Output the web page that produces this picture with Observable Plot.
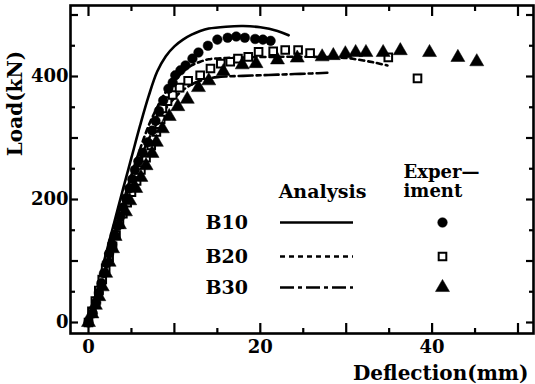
<!DOCTYPE html>
<html>
<head>
<meta charset="utf-8">
<script src="https://cdn.jsdelivr.net/npm/d3@7"></script>
<script src="https://cdn.jsdelivr.net/npm/@observablehq/plot@0.6"></script>
<style>
  html, body { margin: 0; padding: 0; background: #fff; }
</style>
</head>
<body>
<div id="chart"></div>
<script>
// ---------------- data (deflection mm, load kN) ----------------
const seriesNames = ["B10", "B20", "B30"];

// Analysis curves
const b10AnalysisX = [0, 1, 2, 3, 4, 5, 6, 7, 8, 9, 10, 11, 12, 13, 14, 16, 18, 20, 22, 23.3];
const b10AnalysisY = [0, 55, 110, 163, 216, 268, 320, 368, 408, 433, 449, 460, 468, 474, 478, 481, 482, 480, 474, 467];

const b20AnalysisX = [0, 1, 2, 3, 4, 5, 6, 7, 8, 9, 10, 11, 12, 13, 14, 16, 18, 22, 26, 30, 32, 33.5, 34.8];
const b20AnalysisY = [0, 50, 100, 148, 195, 240, 282, 320, 350, 375, 393, 408, 418, 424, 428, 430, 431, 432, 432, 430, 426, 422, 418];

const b30AnalysisX = [0, 1, 2, 3, 4, 5, 6, 7, 8, 9, 10, 11, 12, 13, 14, 15, 16, 18, 20, 22, 24, 26, 27.8];
const b30AnalysisY = [0, 48, 95, 140, 185, 226, 265, 298, 325, 348, 365, 378, 387, 393, 397, 399, 400, 401, 402, 403, 404, 405, 406];

// Experiment points
const b10ExpX = [0, 0.5, 0.9, 1.2, 1.5, 1.8, 2.1, 2.4, 2.75, 3.05, 3.4, 3.7, 4.0, 4.35, 4.75, 5.1, 5.4, 5.8, 6.3, 6.9, 7.4, 7.8, 8.2, 8.7, 9.3, 9.8, 10.1, 10.7, 11.3, 12.1, 12.8, 13.9, 15.0, 16.2, 17.2, 18.2, 19.4, 20.3, 21.2];
const b10ExpY = [0, 15, 32, 48, 64, 80, 96, 112, 127, 142, 157, 172, 187, 202, 218, 233, 248, 262, 276, 293, 312, 328, 344, 361, 380, 390, 402, 410, 418, 429, 439, 450, 460, 463, 465, 463, 461, 460, 458];

const b20ExpX = [0, 0.4, 0.8, 1.2, 1.6, 2.0, 2.4, 2.8, 3.2, 3.6, 4.0, 4.5, 5.0, 5.6, 6.1, 6.7, 7.3, 7.9, 8.4, 8.6, 9.2, 9.8, 10.6, 11.6, 13.0, 14.2, 15.4, 16.5, 17.4, 18.6, 19.8, 21.5, 22.9, 24.4, 25.8, 34.9, 38.3];
const b20ExpY = [0, 18, 35, 52, 70, 88, 106, 124, 142, 160, 177, 195, 212, 230, 248, 268, 288, 310, 330, 348, 360, 370, 382, 393, 402, 413, 421, 424, 429, 432, 440, 441, 443, 443, 438, 431, 397];

const b30ExpX = [0, 0.4, 0.8, 1.2, 1.6, 2.0, 2.4, 2.8, 3.1, 3.6, 4.3, 4.8, 5.5, 6.1, 6.7, 7.4, 7.9, 8.6, 9.4, 10.4, 11.5, 12.8, 14.0, 15.7, 17.9, 19.5, 22.0, 24.3, 27.2, 28.5, 29.9, 31.1, 32.3, 34.3, 36.3, 39.7, 43.0, 45.2];
const b30ExpY = [0, 14, 28, 42, 58, 80, 98, 120, 140, 159, 180, 198, 218, 236, 255, 275, 293, 315, 335, 351, 363, 382, 393, 408, 419, 421, 427, 430, 432, 434, 437, 439, 439, 439, 442, 439, 431, 424];

// Axis ticks and labels
const xTickLabels = [0, 20, 40];
const xMajorTicks = [0, 10, 20, 30, 40, 50];
const xMinorTicks = [5, 15, 25, 35, 45];
const yTickLabels = [0, 200, 400];
const yMajorTicks = [0, 100, 200, 300, 400, 500];
const yMinorTicks = [50, 150, 250, 350, 450];
const xLabel = "Deflection(mm)";
const yLabel = "Load(kN)";
const legendHeadAnalysis = "Analysis";
const legendHeadExperiment = ["Exper\u2014", "iment"];

// ---------------- layout ----------------
const W = 535, H = 384;
const mL = 70, mR = 2, mT = 5, mB = 51;
const x0px = 88, xPxPerUnit = 8.59;
const y0px = 322, yPxPerUnit = 0.615;
const px2x = p => (p - x0px) / xPxPerUnit;
const px2y = p => (y0px - p) / yPxPerUnit;
const xDomain = [px2x(mL), px2x(W - mR)];
const yDomain = [px2y(H - mB), px2y(mT)];

const FONT = "DejaVu Serif";
const lineDash = {B10: null, B20: "5,4", B30: "14,4,4,4"};
const symbolOf = {B10: "circle", B20: "square", B30: "triangle"};
const fillOf = {B10: "black", B20: "white", B30: "black"};
const rOf = {B10: 4.8, B20: 4.3, B30: 5.2};

// tables
const zip = (xs, ys, s) => xs.map((x, i) => ({x, y: ys[i], s}));
const analysis = {
  B10: zip(b10AnalysisX, b10AnalysisY, "B10"),
  B20: zip(b20AnalysisX, b20AnalysisY, "B20"),
  B30: zip(b30AnalysisX, b30AnalysisY, "B30")
};
const experiment = {
  B10: zip(b10ExpX, b10ExpY, "B10"),
  B20: zip(b20ExpX, b20ExpY, "B20"),
  B30: zip(b30ExpX, b30ExpY, "B30")
};

// legend layout (pixel positions converted to data space)
const legRowsPx = [222, 256, 287];
const legend = seriesNames.map((s, i) => ({
  s,
  labelX: px2x(205), y: px2y(legRowsPx[i]),
  lx1: px2x(280), lx2: px2x(353), mx: px2x(442)
}));

const marks = [];

// analysis lines
for (const s of seriesNames) {
  marks.push(Plot.line(analysis[s], {
    x: "x", y: "y", stroke: "black", strokeWidth: 2.6,
    strokeDasharray: lineDash[s], curve: "catmull-rom"
  }));
}
// experiment markers
for (const s of ["B20", "B30", "B10"]) {
  marks.push(Plot.dot(experiment[s], {
    x: "x", y: "y", symbol: symbolOf[s], r: rOf[s],
    fill: fillOf[s], stroke: "black", strokeWidth: s === "B20" ? 2 : 0.5
  }));
}

// frame
marks.push(Plot.frame({stroke: "black", strokeWidth: 2.6}));

// axes: inward ticks on all four sides
const tickStyle = {strokeWidth: 2.2, label: null};
marks.push(Plot.axisX(xMajorTicks, {anchor: "bottom", tickSize: -10, tickFormat: () => "", ...tickStyle}));
marks.push(Plot.axisX(xMinorTicks, {anchor: "bottom", tickSize: -5, tickFormat: () => "", ...tickStyle}));
marks.push(Plot.axisX(xMajorTicks, {anchor: "top", tickSize: -10, tickFormat: () => "", ...tickStyle}));
marks.push(Plot.axisX(xMinorTicks, {anchor: "top", tickSize: -5, tickFormat: () => "", ...tickStyle}));
marks.push(Plot.axisY(yMajorTicks, {anchor: "left", tickSize: -8, tickFormat: () => "", ...tickStyle}));
marks.push(Plot.axisY(yMinorTicks, {anchor: "left", tickSize: -5, tickFormat: () => "", ...tickStyle}));
marks.push(Plot.axisY(yMajorTicks, {anchor: "right", tickSize: -8, tickFormat: () => "", ...tickStyle}));
marks.push(Plot.axisY(yMinorTicks, {anchor: "right", tickSize: -5, tickFormat: () => "", ...tickStyle}));
// tick labels
marks.push(Plot.axisX(xTickLabels, {anchor: "bottom", tickSize: 0, tickPadding: 7, label: null, fontSize: 18, fontWeight: "bold"}));
marks.push(Plot.axisY(yTickLabels, {anchor: "left", tickSize: 0, tickPadding: 2, label: null, fontSize: 18, fontWeight: "bold"}));

// axis titles
marks.push(Plot.text([yLabel], {text: d => d, frameAnchor: "left", dx: -55, dy: -66, rotate: -90, textAnchor: "middle", lineAnchor: "middle", fontSize: 20, fontWeight: "bold"}));
marks.push(Plot.text([xLabel], {text: d => d, frameAnchor: "bottom-right", dx: -5, dy: 40, textAnchor: "end", lineAnchor: "middle", fontSize: 20, fontWeight: "bold"}));

// legend
marks.push(Plot.text([legendHeadAnalysis], {x: px2x(322), y: px2y(191), text: d => d, lineAnchor: "middle", fontSize: 19, fontWeight: "bold"}));
marks.push(Plot.text(legendHeadExperiment, {x: px2x(403), y: (d, i) => px2y([172, 191][i]), text: d => d, textAnchor: "start", lineAnchor: "middle", fontSize: 18, fontWeight: "bold"}));
marks.push(Plot.text(legend, {x: "labelX", y: "y", text: "s", textAnchor: "start", lineAnchor: "middle", fontSize: 19, fontWeight: "bold"}));
for (const d of legend) {
  marks.push(Plot.ruleY([d], {y: "y", x1: "lx1", x2: "lx2", stroke: "black", strokeWidth: 2.6, strokeDasharray: lineDash[d.s]}));
  marks.push(Plot.dot([d], {x: "mx", y: "y", symbol: symbolOf[d.s], r: rOf[d.s], fill: fillOf[d.s], stroke: "black", strokeWidth: d.s === "B20" ? 2 : 0.5}));
}

const chart = Plot.plot({
  width: W, height: H,
  marginLeft: mL, marginRight: mR, marginTop: mT, marginBottom: mB,
  x: {domain: xDomain, axis: null},
  y: {domain: yDomain, axis: null},
  style: {fontFamily: FONT, fontWeight: "bold", fontSize: "18px", background: "white", color: "black"},
  marks
});
document.getElementById("chart").appendChild(chart);
</script>
</body>
</html>
